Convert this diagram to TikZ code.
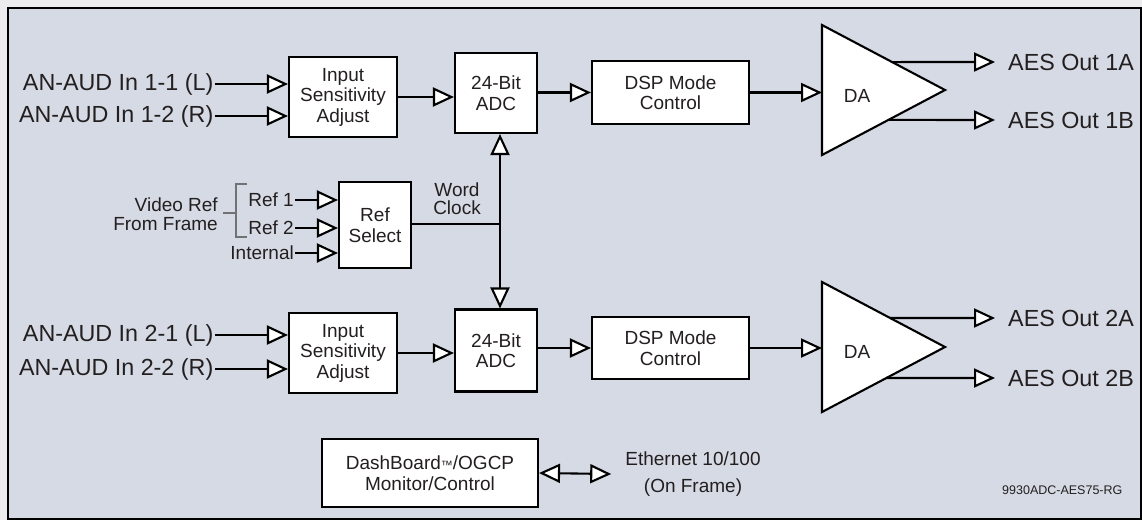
\documentclass[tikz,border=0pt]{standalone}
\usepackage{fontspec}
\setmainfont{Liberation Sans}
\usetikzlibrary{arrows.meta,calc}
\definecolor{bgc}{HTML}{D5DAE4}
\definecolor{txt}{HTML}{231F20}
\definecolor{outer}{HTML}{ECECEE}
\definecolor{brkc}{HTML}{707274}
\begin{document}
\begin{tikzpicture}[x=1pt,y=-1pt,
  every node/.style={text=txt},
  box/.style={draw=black,fill=white,line width=2.1pt,inner sep=0pt,align=center,font=\fontsize{19}{20.5}\selectfont},
  big/.style={font=\fontsize{23.3}{26}\selectfont,inner ysep=1pt,inner xsep=1.5pt},
  lbl/.style={font=\fontsize{19}{20}\selectfont,inner sep=1pt},
  conn/.style={line width=2.1pt,draw=black},
  tipo/.tip={Triangle[open,length=21pt,width=19pt,fill=white]},
  arr/.style={conn,-tipo},
  dblarr/.style={conn,tipo-tipo},
  brk/.style={draw=brkc,line width=1.3pt},
  tri/.style={draw=black,fill=white,line width=2.1pt,line join=miter}]

\useasboundingbox (0,0) rectangle (1142,520);
\fill[outer] (0,0) rectangle (1142,520);
\draw[fill=bgc,line width=2pt] (8,8) rectangle (1141,519);

% ---------- top channel ----------
\node[box,minimum width=108pt,minimum height=80pt] (isa1) at (343,97) {Input\\Sensitivity\\Adjust};
\node[box,minimum width=82pt,minimum height=80pt] (adc1) at (496,93) {24-Bit\\ADC};
\node[box,minimum width=157pt,minimum height=63pt] (dsp1) at (670.5,92.5) {DSP Mode\\Control};
\coordinate (da1t) at (822,25);
\coordinate (da1b) at (822,155);
\coordinate (da1p) at (945,90);
\draw[tri] (da1t) -- (da1p) -- (da1b) -- cycle;
\node[lbl] (da1) at (857,96) {DA};

\node[big,anchor=east] (i11) at (215,84) {AN-AUD In 1-1 (L)};
\node[big,anchor=east] (i12) at (215,116) {AN-AUD In 1-2 (R)};
\draw[arr] (i11.east) -- (i11.east -| isa1.west);
\draw[arr] (i12.east) -- (i12.east -| isa1.west);
\draw[arr] (isa1.east) -- (isa1.east -| adc1.west);
\draw[arr] (adc1.east |- dsp1.west) -- (dsp1.west);
\draw[arr] (dsp1.east) -- (dsp1.east -| da1t);

\node[big,anchor=west,inner xsep=13pt] (o1a) at (995,62) {AES Out 1A};
\node[big,anchor=west,inner xsep=13pt] (o1b) at (995,120) {AES Out 1B};
\draw[arr] ($(da1t)!0.57!(da1p)$) -- (o1a.west);
\draw[arr] ($(da1b)!0.54!(da1p)$) -- (o1b.west);

% ---------- bottom channel ----------
\node[box,minimum width=108pt,minimum height=80pt] (isa2) at (343,353) {Input\\Sensitivity\\Adjust};
\node[box,minimum width=82pt,minimum height=82pt] (adc2) at (496,350.5) {24-Bit\\ADC};
\node[box,minimum width=157pt,minimum height=62pt] (dsp2) at (670.5,348) {DSP Mode\\Control};
\coordinate (da2t) at (822,282);
\coordinate (da2b) at (822,412);
\coordinate (da2p) at (945,347);
\draw[tri] (da2t) -- (da2p) -- (da2b) -- cycle;
\node[lbl] (da2) at (857,352) {DA};

\node[big,anchor=east] (i21) at (215,335) {AN-AUD In 2-1 (L)};
\node[big,anchor=east] (i22) at (215,369) {AN-AUD In 2-2 (R)};
\draw[arr] (i21.east) -- (i21.east -| isa2.west);
\draw[arr] (i22.east) -- (i22.east -| isa2.west);
\draw[arr] (isa2.east) -- (isa2.east -| adc2.west);
\draw[arr] (adc2.east |- dsp2.west) -- (dsp2.west);
\draw[arr] (dsp2.east) -- (dsp2.east -| da2t);

\node[big,anchor=west,inner xsep=13pt] (o2a) at (995,318) {AES Out 2A};
\node[big,anchor=west,inner xsep=13pt] (o2b) at (995,378) {AES Out 2B};
\draw[arr] ($(da2t)!0.554!(da2p)$) -- (o2a.west);
\draw[arr] ($(da2b)!0.523!(da2p)$) -- (o2b.west);

% ---------- reference select ----------
\node[box,minimum width=72pt,minimum height=86pt] (rs) at (375,225) {Ref\\Select};
\coordinate (wc) at (500,224);
\draw[conn] (rs.east |- wc) -- (wc);
\draw[arr] (wc) -- (wc |- adc1.south);
\draw[arr] (wc) -- (wc |- adc2.north);
\node[lbl,align=center,font=\fontsize{19}{18}\selectfont] (wcl) at (457,199) {Word\\Clock};

\node[lbl,anchor=east] (r1) at (295,200) {Ref 1};
\node[lbl,anchor=east] (r2) at (295,228) {Ref 2};
\node[lbl,anchor=east] (rint) at (295,253) {Internal};
\draw[arr] (r1.east) -- (r1.east -| rs.west);
\draw[arr] (r2.east) -- (r2.east -| rs.west);
\draw[arr] (rint.east) -- (rint.east -| rs.west);

\draw[brk] (247,184) -- (236,184) -- (236,237) -- (247,237);
\draw[brk] (223,213) -- (236,213);
\node[lbl,anchor=east,align=right,font=\fontsize{19}{19}\selectfont] (vr) at (219,214) {Video Ref\\From Frame};

% ---------- control ----------
\node[box,minimum width=216pt,minimum height=68pt] (db) at (430,473) {DashBoard{\fontsize{12}{12}\selectfont ™}/OGCP\\Monitor/Control};
\node[lbl,align=center,font=\fontsize{19}{27}\selectfont,inner xsep=14pt] (eth) at (693,474) {Ethernet 10/100\\(On Frame)};
\draw[dblarr] (db.east) -- (eth.west);

\node[anchor=west,inner sep=0pt,font=\fontsize{12.5}{13}\selectfont] (fig) at (1002,490) {9930ADC-AES75-RG};
\end{tikzpicture}
\end{document}
